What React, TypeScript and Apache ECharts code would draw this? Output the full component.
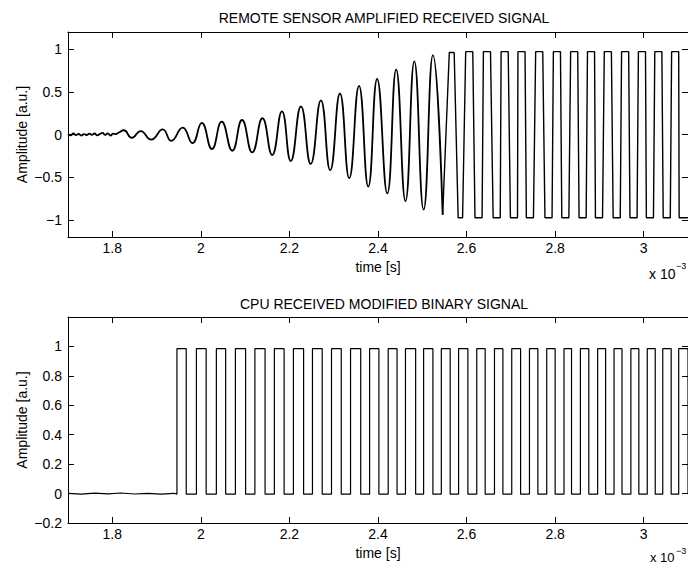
import React, { useEffect, useRef } from "react";
import * as echarts from "echarts";

// ---------- data (time axis in units of 10^-3 s) ----------
const xTicks = [1.8, 2.0, 2.2, 2.4, 2.6, 2.8, 3.0];
const yTicksTop = [-1, -0.5, 0, 0.5, 1];
const yTicksBottom = [-0.2, 0, 0.2, 0.4, 0.6, 0.8, 1];

// top: low-level noise before the oscillation starts
const noiseT = [1.7, 1.706, 1.712, 1.718, 1.724, 1.73, 1.736, 1.742, 1.748, 1.754, 1.76, 1.766, 1.772, 1.778, 1.784, 1.79, 1.796, 1.802, 1.808, 1.814];
const noiseV = [0.005, -0.01, 0.012, -0.008, 0.006, -0.012, 0.004, -0.006, 0.01, -0.004, 0.012, -0.01, 0.006, 0.018, -0.004, 0.014, -0.012, 0.01, 0.004, 0.02];

// top: growing oscillation, peaks and troughs
const sineT = [1.826, 1.844, 1.864, 1.888, 1.914, 1.933, 1.959, 1.981, 2.002, 2.025, 2.047, 2.071, 2.093, 2.116, 2.139, 2.161, 2.183, 2.203, 2.226, 2.248, 2.271, 2.292, 2.314, 2.335, 2.357, 2.378, 2.398, 2.421, 2.441, 2.462, 2.482, 2.503, 2.524, 2.546];
const sineV = [0.05, -0.04, 0.04, -0.06, 0.06, -0.075, 0.08, -0.1, 0.135, -0.17, 0.15, -0.19, 0.17, -0.21, 0.19, -0.24, 0.27, -0.31, 0.33, -0.345, 0.4, -0.42, 0.48, -0.51, 0.57, -0.61, 0.65, -0.69, 0.76, -0.78, 0.855, -0.88, 0.93, -0.94];

// top: saturated (square) part, plateau start / end / level
const sqStart = [2.561, 2.581, 2.598, 2.619, 2.638, 2.66, 2.678, 2.699, 2.716, 2.735, 2.756, 2.777, 2.796, 2.815, 2.835, 2.854, 2.873, 2.891, 2.911, 2.931, 2.95, 2.969, 2.988, 3.006, 3.025, 3.044, 3.063, 3.08];
const sqEnd = [2.572, 2.591, 2.614, 2.635, 2.654, 2.676, 2.694, 2.715, 2.732, 2.751, 2.772, 2.793, 2.812, 2.831, 2.851, 2.87, 2.889, 2.907, 2.927, 2.947, 2.966, 2.985, 3.004, 3.022, 3.041, 3.06, 3.079, 3.1];
const sqLevel = [0.96, -0.975, 0.97, -0.975, 0.97, -0.975, 0.97, -0.975, 0.97, -0.975, 0.97, -0.975, 0.97, -0.975, 0.97, -0.975, 0.97, -0.975, 0.97, -0.975, 0.97, -0.975, 0.97, -0.975, 0.97, -0.975, 0.97, -0.975];

// bottom: binary signal edges
const binRise = [1.946, 1.99, 2.035, 2.078, 2.122, 2.166, 2.209, 2.252, 2.295, 2.338, 2.381, 2.423, 2.462, 2.503, 2.543, 2.582, 2.623, 2.663, 2.702, 2.742, 2.781, 2.82, 2.857, 2.896, 2.933, 2.971, 3.008, 3.043, 3.079];
const binFall = [1.967, 2.012, 2.056, 2.101, 2.145, 2.188, 2.232, 2.274, 2.317, 2.361, 2.402, 2.443, 2.485, 2.524, 2.563, 2.603, 2.642, 2.682, 2.722, 2.761, 2.8, 2.837, 2.876, 2.914, 2.951, 2.989, 3.026, 3.062, 3.1];
const binHigh = 0.985;
const binLow = -0.004;
const binNoiseT = [1.7, 1.73, 1.76, 1.79, 1.82, 1.85, 1.88, 1.91, 1.94];
const binNoiseV = [0.002, -0.004, 0.003, -0.002, 0.004, -0.003, 0.002, -0.004, 0.002];

const FONT = "Liberation Sans, Arial, Helvetica, sans-serif";
const FS = 14;

function buildTop() {
  const smooth: number[][] = [];
  noiseT.forEach((t, i) => smooth.push([t, noiseV[i]]));
  sineT.forEach((t, i) => smooth.push([t, sineV[i]]));
  const sq: number[][] = [[sineT[sineT.length - 1], sineV[sineV.length - 1]]];
  sqStart.forEach((t, i) => {
    sq.push([t, sqLevel[i]]);
    sq.push([sqEnd[i], sqLevel[i]]);
  });
  return { smooth, sq };
}

function buildBottom() {
  const pts: number[][] = [];
  binNoiseT.forEach((t, i) => pts.push([t, binNoiseV[i]]));
  binRise.forEach((r, i) => {
    pts.push([r, binLow]);
    pts.push([r, binHigh]);
    pts.push([binFall[i], binHigh]);
    pts.push([binFall[i], binLow]);
  });
  return pts;
}

const fmtX = (v: number) => String(Math.round(v * 10) / 10);
const fmtY = (v: number) => String(Math.round(v * 10) / 10).replace("-", "\u2212");

function xAxes(grid: number) {
  const common = {
    gridIndex: grid,
    type: "value",
    min: 1.7,
    max: 3.1,
    splitLine: { show: false },
    axisLine: { show: true, onZero: false, lineStyle: { color: "#000", width: 1 } },
  };
  return [
    {
      ...common,
      position: "bottom",
      axisTick: { show: true, inside: true, length: 6, customValues: xTicks, lineStyle: { color: "#000" } },
      axisLabel: { show: true, customValues: xTicks, formatter: fmtX, color: "#000", fontSize: FS, fontFamily: FONT, margin: 4 },
      name: "time [s]",
      nameLocation: "middle",
      nameGap: 23,
      nameMoveOverlap: false,
      nameTextStyle: { color: "#000", fontSize: FS, fontFamily: FONT },
    },
    {
      ...common,
      position: "top",
      axisTick: { show: true, inside: true, length: 6, customValues: xTicks, lineStyle: { color: "#000" } },
      axisLabel: { show: false },
    },
  ];
}

function yAxes(grid: number, min: number, max: number, ticks: number[]) {
  const common = {
    gridIndex: grid,
    type: "value",
    min,
    max,
    splitLine: { show: false },
    axisLine: { show: true, onZero: false, lineStyle: { color: "#000", width: 1 } },
  };
  return [
    {
      ...common,
      position: "left",
      axisTick: { show: true, inside: true, length: 6, customValues: ticks, lineStyle: { color: "#000" } },
      axisLabel: { show: true, customValues: ticks, formatter: fmtY, color: "#000", fontSize: FS, fontFamily: FONT, margin: 6 },
      name: "Amplitude [a.u.]",
      nameLocation: "middle",
      nameGap: 39,
      nameMoveOverlap: false,
      nameRotate: 90,
      nameTextStyle: { color: "#000", fontSize: FS, fontFamily: FONT },
    },
    {
      ...common,
      position: "right",
      axisTick: { show: true, inside: true, length: 6, customValues: ticks, lineStyle: { color: "#000" } },
      axisLabel: { show: false },
    },
  ];
}

export default function App() {
  const ref = useRef<HTMLDivElement>(null);
  useEffect(() => {
    if (!ref.current) return;
    const chart = echarts.init(ref.current, undefined, { renderer: "svg" });
    const top = buildTop();
    const bottom = buildBottom();
    chart.setOption({
      animation: false,
      backgroundColor: "#fff",
      title: [
        {
          text: "REMOTE SENSOR AMPLIFIED RECEIVED SIGNAL",
          left: 379,
          top: 6,
          textAlign: "center",
          textStyle: { color: "#000", fontSize: FS, fontWeight: "normal", fontFamily: FONT },
        },
        {
          text: "CPU RECEIVED MODIFIED BINARY SIGNAL",
          left: 379,
          top: 292,
          textAlign: "center",
          textStyle: { color: "#000", fontSize: FS, fontWeight: "normal", fontFamily: FONT },
        },
      ],
      grid: [
        { left: 68, top: 32, width: 622, height: 205 },
        { left: 68, top: 317, width: 622, height: 206 },
      ],
      xAxis: [...xAxes(0), ...xAxes(1)],
      yAxis: [...yAxes(0, -1.2, 1.2, yTicksTop), ...yAxes(1, -0.2, 1.2, yTicksBottom)],
      series: [
        {
          type: "line",
          xAxisIndex: 0,
          yAxisIndex: 0,
          data: top.smooth,
          smooth: 0.5,
          showSymbol: false,
          lineStyle: { color: "#000", width: 1.8 },
        },
        {
          type: "line",
          xAxisIndex: 0,
          yAxisIndex: 0,
          data: top.sq,
          showSymbol: false,
          lineStyle: { color: "#000", width: 1.4 },
        },
        {
          type: "line",
          xAxisIndex: 2,
          yAxisIndex: 2,
          data: bottom,
          showSymbol: false,
          lineStyle: { color: "#000", width: 1.2 },
        },
      ],
      graphic: [
        { type: "text", left: 649, top: 267, style: { text: "x 10", fill: "#000", fontSize: FS, fontFamily: FONT } },
        { type: "text", left: 676, top: 261, style: { text: "\u22123", fill: "#000", fontSize: 9, fontFamily: FONT } },
        { type: "text", left: 650, top: 551, style: { text: "x 10", fill: "#000", fontSize: 13, fontFamily: FONT } },
        { type: "text", left: 676, top: 546, style: { text: "\u22123", fill: "#000", fontSize: 9, fontFamily: FONT } },
      ],
    });
    return () => chart.dispose();
  }, []);
  return (
    <div
      ref={ref}
      style={{ position: "fixed", left: 0, top: 0, width: 688, height: 566, background: "#fff" }}
    />
  );
}
